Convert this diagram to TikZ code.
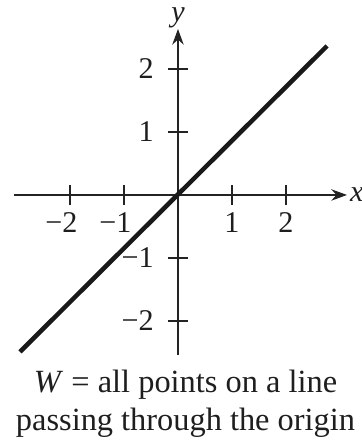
\documentclass[tikz,border=0pt]{standalone}
\usepackage{fontspec}
\setmainfont{Liberation Serif}
\usetikzlibrary{arrows.meta, positioning}
\definecolor{axiscolor}{RGB}{35,35,35}
\definecolor{subspacecolor}{RGB}{25,25,25}
\definecolor{labelcolor}{RGB}{30,30,30}
\tikzset{
axis/.style={
  draw=axiscolor,
  line width=0.5pt,
  -{Stealth[length=2.2mm,width=1.6mm]}
},
tickmark/.style={
  draw=axiscolor,
  line width=0.5pt
},
ticklabel/.style={
  font=\fontsize{12}{13}\selectfont,
  text=labelcolor,
  inner sep=0pt
},
axislabel/.style={
  font=\fontsize{12}{13}\selectfont\itshape,
  text=labelcolor,
  inner sep=0pt
},
subspace/.style={
  draw=subspacecolor,
  line width=1.8pt
},
caption/.style={
  align=center,
  inner sep=0pt,
  font=\fontsize{12.9}{14.8}\selectfont,
  text=labelcolor
}
}

\begin{document}
\begin{tikzpicture}[x=0.756cm, y=0.882cm]
  \useasboundingbox (-3.296,-3.937) rectangle (3.407,3.095);

  \coordinate (xstart) at (-3.04,0);
  \coordinate (xend) at (3.13,0);
  \coordinate (ystart) at (0,-2.54);
  \coordinate (yend) at (0,2.635);

  % axes
  \draw[axis] (xstart) -- (xend);
  \draw[axis] (ystart) -- (yend);
  \node[axislabel, right=1pt of xend] (xlab) {x};
  \node[axislabel, above=0pt of yend] (ylab) {y};

  % ticks
  \foreach \i/\txt in {-2/\llap{−}2, -1/\llap{−}1, 1/1, 2/2} {
    \draw[tickmark] (\i,0) +(0,-4pt) -- +(0,4pt);
    \node[ticklabel, anchor=north, yshift=-7pt] (xt\i) at (\i,0) {\txt};
  }
  \foreach \i/\txt in {-2/−2, -1/−1, 1/1, 2/2} {
    \draw[tickmark] (0,\i) +(-4pt,0) -- +(4pt,0);
    \node[ticklabel, anchor=east, xshift=-9.5pt] (yt\i) at (0,\i) {\txt};
  }

  % the line W
  \coordinate (lo) at (-2.926,-2.49);
  \coordinate (hi) at (2.76,2.365);
  \draw[subspace] (lo) -- (hi);

  \node[caption, anchor=north] (cap) at (0.14,-2.778)
    {\textit{W} = all points on a line\\passing through the origin};
\end{tikzpicture}
\end{document}
